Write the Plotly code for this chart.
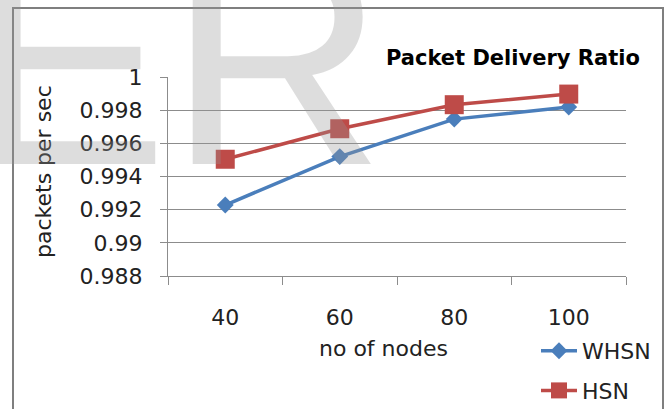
import plotly.graph_objects as go

# Chart data
nodes = ["40", "60", "80", "100"]
whsn = [0.99228, 0.9952, 0.99746, 0.99819]
hsn = [0.99504, 0.99688, 0.99833, 0.99897]
y_ticks = [0.988, 0.99, 0.992, 0.994, 0.996, 0.998, 1.0]
y_tick_text = ["0.988", "0.99", "0.992", "0.994", "0.996", "0.998", "1"]

W, H = 666, 409
ML, MR, MT, MB = 168, 40, 77, 133
PW, PH = W - ML - MR, H - MT - MB


def px_x(px):
    return (px - ML) / PW


def px_y(py):
    return (H - MB - py) / PH


FONT = "DejaVu Sans"
BLUE = "#4A7EBB"
RED = "#BE4B48"
GRID = "#8C8C8C"
TEXT = "#222222"

fig = go.Figure()
fig.add_trace(go.Scatter(
    x=nodes, y=whsn, name="WHSN", mode="lines+markers",
    line=dict(color=BLUE, width=3.5),
    marker=dict(symbol="diamond", size=13, color=BLUE),
    legendgroup="a",
))
fig.add_trace(go.Scatter(
    x=nodes, y=hsn, name="HSN", mode="lines+markers",
    line=dict(color=RED, width=3.5),
    marker=dict(symbol="square", size=19, color=RED),
    legendgroup="b",
))

fig.update_layout(
    width=W, height=H,
    margin=dict(l=ML, r=MR, t=MT, b=MB, autoexpand=False),
    paper_bgcolor="white", plot_bgcolor="white",
    font=dict(family=FONT, size=22, color=TEXT),
    showlegend=True,
    legend=dict(
        x=px_x(536), y=px_y(330), xanchor="left", yanchor="top",
        bgcolor="rgba(0,0,0,0)", font=dict(size=22, color=TEXT),
        tracegroupgap=8, itemwidth=36,
    ),
    xaxis=dict(
        type="category", range=[-0.5, 3.5], automargin=False,
        showgrid=False, showline=True, linecolor=GRID, linewidth=1,
        ticks="outside", tickson="boundaries", ticklen=8, tickcolor=GRID,
        ticklabelstandoff=22, zeroline=False,
    ),
    yaxis=dict(
        range=[0.988, 1.0], tickvals=y_ticks, ticktext=y_tick_text,
        automargin=False,
        showgrid=True, gridcolor=GRID, gridwidth=1,
        showline=True, linecolor=GRID, linewidth=1,
        ticks="outside", ticklen=7, tickcolor=GRID,
        ticklabelstandoff=13, zeroline=False,
    ),
)

annotations = [
    # chart title
    dict(text="<b>Packet Delivery Ratio</b>", x=px_x(513), y=px_y(58),
         xref="paper", yref="paper", xanchor="center", yanchor="middle",
         showarrow=False, font=dict(family=FONT, size=21, color="black")),
    # axis titles (x title sits left of centre to leave room for the legend)
    dict(text="no of nodes", x=px_x(383), y=px_y(348),
         xref="paper", yref="paper", xanchor="center", yanchor="middle",
         showarrow=False, font=dict(family=FONT, size=22, color=TEXT)),
    dict(text="packets per sec", x=px_x(43), y=px_y(171), textangle=-90,
         xref="paper", yref="paper", xanchor="center", yanchor="middle",
         showarrow=False, font=dict(family=FONT, size=22, color=TEXT)),
    # faint background lettering
    dict(text="ER", x=px_x(-34), y=px_y(230),
         xref="paper", yref="paper", xanchor="left", yanchor="bottom",
         showarrow=False,
         font=dict(family="Liberation Sans", size=300, color="rgba(150,150,150,0.32)")),
]
fig.update_layout(annotations=annotations)

# outer chart frame
fig.add_shape(type="rect", xref="paper", yref="paper",
              x0=px_x(13), x1=px_x(663), y0=px_y(440), y1=px_y(8),
              line=dict(color="#7F7F7F", width=2), fillcolor="rgba(0,0,0,0)",
              layer="above")

fig.write_html("out.html")
